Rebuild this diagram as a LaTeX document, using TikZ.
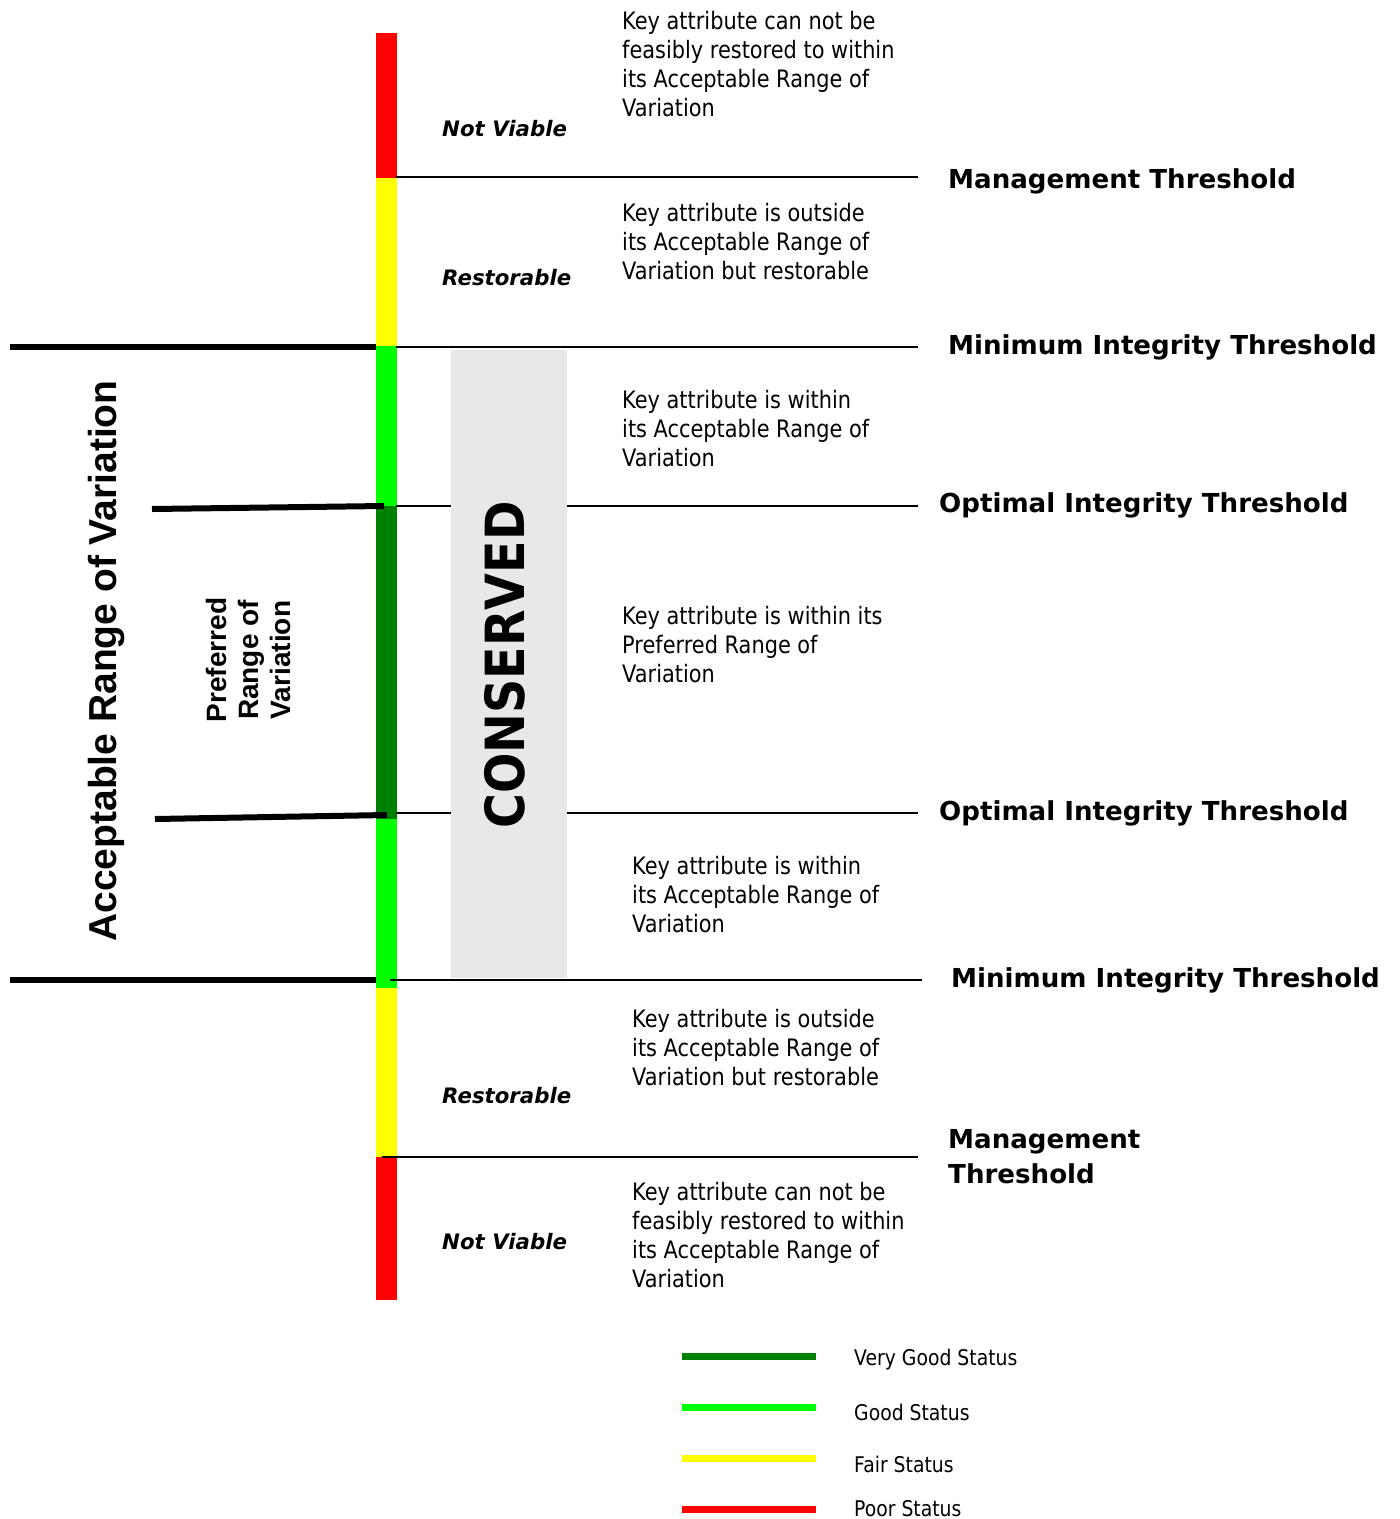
\documentclass[tikz,border=0pt]{standalone}
\usepackage{fontspec}
\setmainfont{DejaVu Sans}[FakeStretch=0.87]
\newfontfamily\headfont{DejaVu Sans}
\newfontfamily\consfont{DejaVu Sans}[FakeStretch=0.88]
\newfontfamily\arialfont{Liberation Sans}
\definecolor{poor}{HTML}{FF0000}
\definecolor{fair}{HTML}{FFFF00}
\definecolor{good}{HTML}{00FF00}
\definecolor{verygood}{HTML}{008000}
\definecolor{consgrey}{HTML}{E8E8E8}
\begin{document}
\begin{tikzpicture}[x=1pt,y=-1pt,
  thinline/.style={line width=2pt, draw=black},
  thickbar/.style={line width=6pt, draw=black},
  body/.style={font=\fontsize{24}{29}\selectfont, align=left, inner sep=0pt, anchor=north west},
  head/.style={font=\headfont\bfseries\fontsize{26.1}{35}\selectfont, inner sep=0pt, anchor=base west},
  statuslbl/.style={font=\headfont\bfseries\itshape\fontsize{21.3}{25}\selectfont, inner sep=0pt, anchor=base west},
  legtext/.style={font=\fontsize{21.6}{24}\selectfont, inner sep=0pt, anchor=base west},
  legbar/.style={line width=7pt},
]
\useasboundingbox (0,0) rectangle (1400,1519);
\fill[white] (0,0) rectangle (1400,1519);

% colour bar
\fill[poor] (376,33) rectangle (397,178);
\fill[fair] (376,178) rectangle (397,346);
\fill[good] (376,346) rectangle (397,506);
\fill[verygood] (376,506) rectangle (397,819);
\fill[good] (376,819) rectangle (397,988);
\fill[fair] (376,988) rectangle (397,1157);
\fill[poor] (376,1157) rectangle (397,1300);

% threshold lines
\coordinate (m1a) at (396,177);  \coordinate (m1b) at (918,177);
\coordinate (i1a) at (396,347);  \coordinate (i1b) at (918,347);
\coordinate (o1a) at (396,506);  \coordinate (o1b) at (918,506);
\coordinate (o2a) at (396,813);  \coordinate (o2b) at (918,813);
\coordinate (i2a) at (390,980);  \coordinate (i2b) at (922,980);
\coordinate (m2a) at (382,1157); \coordinate (m2b) at (918,1157);
\draw[thinline] (m1a) -- (m1b);
\draw[thinline] (i1a) -- (i1b);
\draw[thinline] (o1a) -- (o1b);
\draw[thinline] (o2a) -- (o2b);
\draw[thinline] (i2a) -- (i2b);
\draw[thinline] (m2a) -- (m2b);

% conserved box
\fill[consgrey] (451,350) rectangle (567,978);
\node[rotate=90, font=\consfont\bfseries\fontsize{54}{60}\selectfont, inner sep=0pt] (cons) at (505,665) {CONSERVED};

% thick range bars
\coordinate (a1a) at (10,347);  \coordinate (a1b) at (376,347);
\coordinate (a2a) at (10,980);  \coordinate (a2b) at (376,980);
\coordinate (p1a) at (152,509); \coordinate (p1b) at (384,506);
\coordinate (p2a) at (155,819); \coordinate (p2b) at (387,815);
\draw[thickbar] (a1a) -- (a1b);
\draw[thickbar] (a2a) -- (a2b);
\draw[thickbar] (p1a) -- (p1b);
\draw[thickbar] (p2a) -- (p2b);

% rotated labels
\node[rotate=90, font=\arialfont\bfseries\fontsize{39}{44}\selectfont, inner sep=0pt] (arv) at (107,661) {Acceptable Range of Variation};
\node[rotate=90, font=\arialfont\bfseries\fontsize{28}{32}\selectfont, align=center, inner sep=0pt] (prv) at (248,660) {Preferred\\Range of\\Variation};

% status labels
\node[statuslbl] (nv1) at (442,136.8) {Not Viable};
\node[statuslbl] (rs1) at (442,285.8) {Restorable};
\node[statuslbl] (rs2) at (442,1103.8) {Restorable};
\node[statuslbl] (nv2) at (442,1249.8) {Not Viable};

% descriptions
\node[body] (d1) at (622,11.5) {Key attribute can not be\\feasibly restored to within\\its Acceptable Range of\\Variation};
\node[body] (d2) at (622,203.5) {Key attribute is outside\\its Acceptable Range of\\Variation but restorable};
\node[body] (d3) at (622,390.5) {Key attribute is within\\its Acceptable Range of\\Variation};
\node[body] (d4) at (622,606.5) {Key attribute is within its\\Preferred Range of\\Variation};
\node[body] (d5) at (632,856.5) {Key attribute is within\\its Acceptable Range of\\Variation};
\node[body] (d6) at (632,1009.5) {Key attribute is outside\\its Acceptable Range of\\Variation but restorable};
\node[body] (d7) at (632,1182.5) {Key attribute can not be\\feasibly restored to within\\its Acceptable Range of\\Variation};

% threshold headings
\node[head] (h1) at (948,188.7) {Management Threshold};
\node[head] (h2) at (948,354.7) {Minimum Integrity Threshold};
\node[head] (h3) at (939,512.7) {Optimal Integrity Threshold};
\node[head] (h4) at (939,820.7) {Optimal Integrity Threshold};
\node[head] (h5) at (951,987.7) {Minimum Integrity Threshold};
\node[head, anchor=north west, align=left] (h6) at (948,1129.4) {Management\\Threshold};

% legend
\coordinate (l1a) at (682,1356); \coordinate (l1b) at (816,1356);
\coordinate (l2a) at (682,1407); \coordinate (l2b) at (816,1407);
\coordinate (l3a) at (682,1458); \coordinate (l3b) at (816,1458);
\coordinate (l4a) at (682,1509); \coordinate (l4b) at (816,1509);
\draw[legbar, verygood] (l1a) -- (l1b);
\draw[legbar, good] (l2a) -- (l2b);
\draw[legbar, fair] (l3a) -- (l3b);
\draw[legbar, poor] (l4a) -- (l4b);
\node[legtext] (t1) at (854,1365) {Very Good Status};
\node[legtext] (t2) at (854,1420) {Good Status};
\node[legtext] (t3) at (854,1472) {Fair Status};
\node[legtext] (t4) at (854,1516) {Poor Status};
\end{tikzpicture}
\end{document}
